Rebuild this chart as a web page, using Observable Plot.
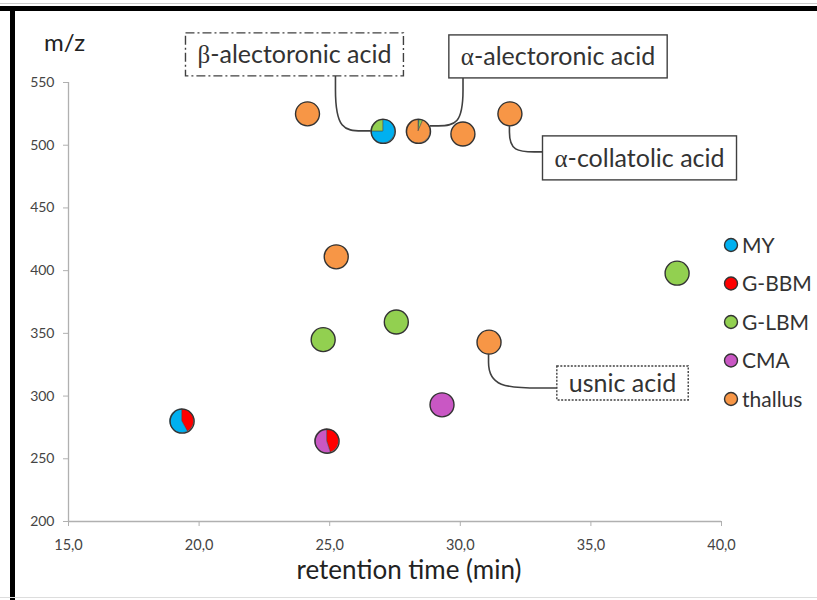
<!DOCTYPE html>
<html><head><meta charset="utf-8">
<script src="https://cdn.jsdelivr.net/npm/d3@7"></script>
<script src="https://cdn.jsdelivr.net/npm/@observablehq/plot@0.6"></script>
<style>
body{margin:0;background:#fff;}
#wrap{position:relative;width:817px;height:600px;overflow:hidden;background:#fff;font-family:Lato,"Open Sans",sans-serif;}
#wrap svg{position:absolute;left:0;top:0;overflow:visible;}
.bt{position:absolute;left:0;top:6px;width:817px;height:5px;background:#000;}
.bt2{position:absolute;left:0;top:3px;width:817px;height:1px;background:#ccc;}
.bl{position:absolute;left:10px;top:6px;width:5px;height:600px;background:#000;}
.bb{position:absolute;left:0;top:597px;width:817px;height:1px;background:#ddd;}
</style></head><body><div id="wrap"><div class="bt2"></div><div class="bt"></div><div class="bl"></div><div class="bb"></div></div>
<script>
// ---- data ----
const samples = ["MY", "G-BBM", "G-LBM", "CMA", "thallus"];
const sampleColors = ["#00B0F0", "#FF0000", "#92D050", "#C957C4", "#F79646"];
const rt = [19.35, 24.9, 29.3, 31.1, 24.75, 27.55, 25.25, 38.3, 24.15, 27.05, 28.4, 30.1, 31.9];
const mz = [280, 264, 293, 343, 345, 359, 411, 398, 525, 511, 511, 509, 525];
// share of each sample in each peak (pie slices)
const shareMY      = [0.58, 0,    0, 0, 0, 0, 0, 0, 0, 0.75, 0.015, 0, 0];
const shareGBBM    = [0.42, 0.45, 0, 0, 0, 0, 0, 0, 0, 0,    0,     0, 0];
const shareGLBM    = [0,    0,    0, 0, 1, 1, 0, 1, 0, 0.25, 0.05,  0, 0];
const shareCMA     = [0,    0.55, 1, 0, 0, 0, 0, 0, 0, 0,    0,     0, 0];
const shareThallus = [0,    0,    0, 1, 0, 0, 1, 0, 1, 0,    0.935, 1, 1];
const xTicks = [15, 20, 25, 30, 35, 40];
const yTicks = [200, 250, 300, 350, 400, 450, 500, 550];
const annGreek = ["β", "α", "α", ""];
const annText = ["-alectoronic acid", "-alectoronic acid", "-collatolic acid", "usnic acid"];
const annRt = [23.67, 33.76, 36.88, 36.23];
const annMz = [572, 570.4, 489.5, 310];
const annTarget = [9, 10, 12, 3];

// ---- build ----
const shares = {"MY": shareMY, "G-BBM": shareGBBM, "G-LBM": shareGLBM, "CMA": shareCMA, "thallus": shareThallus};
const colorOf = Object.fromEntries(samples.map((s, i) => [s, sampleColors[i]]));
const sliceOrder = ["G-BBM", "MY", "G-LBM", "CMA", "thallus"];
const peaks = rt.map((x, i) => {
  const slices = sliceOrder.map(s => ({s, v: shares[s][i], color: colorOf[s]})).filter(d => d.v > 0);
  return {rt: x, mz: mz[i], slices, mixed: slices.length > 1, color: slices[0].color};
});
const R = 12;
const FONT = "Lato, 'Open Sans', sans-serif";
const SERIF = "'Liberation Serif', 'DejaVu Serif', serif";

const annStyle = [
  {dash: "9,3,2,3", from: "box", boxDx: 41, side: -1, dy: 0, h: 43},
  {dash: null, from: "box", boxDx: -95, side: 1, dy: -5, h: 43},
  {dash: null, from: "point", dy: -6, h: 44},
  {dash: "2,1.5", from: "point", dy: 5, h: 34}
];

const ctx = document.createElement("canvas").getContext("2d");
function tw(t, font) { ctx.font = font; return ctx.measureText(t).width; }

function overlay(index, scales, values, dims) {
  const x = scales.x, y = scales.y;
  const g = d3.create("svg:g");
  // pies
  const pie = d3.pie().sort(null).value(d => d.v);
  const arc = d3.arc().innerRadius(0).outerRadius(R);
  peaks.filter(p => p.mixed).forEach(p => {
    g.append("g").attr("transform", `translate(${x(p.rt)},${y(p.mz)})`)
      .selectAll("path").data(pie(p.slices)).join("path")
      .attr("d", arc).attr("fill", d => d.data.color)
      .attr("stroke", "#444").attr("stroke-width", 0.5);
  });
  // annotations
  const fs = 25;
  annText.forEach((t, i) => {
    const st = annStyle[i];
    const wText = tw(annGreek[i], `${fs}px ${SERIF}`) + tw(t, `${fs}px ${FONT}`);
    const w = wText + 24, h = st.h;
    const cx = x(annRt[i]), cy = y(annMz[i]);
    const p = peaks[annTarget[i]];
    const px = x(p.rt), py = y(p.mz);
    let S, E;
    if (st.from === "box") {
      S = [cx + st.boxDx, cy + h / 2];
      E = [px + st.side * R, py + st.dy];
    } else {
      S = [px, py + R];
      E = [cx - w / 2, cy + st.dy];
    }
    const dx = E[0] - S[0], dy = E[1] - S[1];
    const path = `M${S[0]},${S[1]} L${S[0]},${S[1] + dy * 0.25} C${S[0]},${S[1] + dy * 0.95} ${S[0] + dx * 0.25},${E[1]} ${S[0] + dx * 0.75},${E[1]} L${E[0]},${E[1]}`;
    g.append("path").attr("d", path).attr("fill", "none").attr("stroke", "#404040").attr("stroke-width", 1.6);
    g.append("rect").attr("x", cx - w / 2).attr("y", cy - h / 2).attr("width", w).attr("height", h)
      .attr("fill", "#fff").attr("stroke", "#404040").attr("stroke-width", 1.4)
      .attr("stroke-dasharray", st.dash);
    const tx = g.append("text").attr("x", cx).attr("y", cy).attr("dy", "0.35em")
      .attr("text-anchor", "middle").attr("font-size", fs).attr("fill", "#333").attr("font-family", FONT);
    if (annGreek[i]) tx.append("tspan").attr("font-family", SERIF).text(annGreek[i]);
    tx.append("tspan").text(t);
  });
  // legend
  const lx = dims.width - dims.marginRight + 10;
  samples.forEach((s, i) => {
    const ly = dims.marginTop + 163 + i * 38.5;
    g.append("circle").attr("cx", lx).attr("cy", ly).attr("r", 6.5)
      .attr("fill", sampleColors[i]).attr("stroke", "#333").attr("stroke-width", 1.4);
    g.append("text").attr("x", lx + 11).attr("y", ly).attr("dy", "0.36em").attr("text-anchor", "start")
      .attr("font-size", 21).attr("fill", "#333").attr("font-family", FONT).text(s);
  });
  return g.node();
}

const chart = Plot.plot({
  width: 817, height: 600,
  marginLeft: 68, marginRight: 96, marginTop: 82, marginBottom: 79,
  x: {domain: [15, 40]},
  y: {domain: [200, 550]},
  style: {fontFamily: FONT, background: "transparent", overflow: "visible"},
  marks: [
    Plot.ruleY([200], {stroke: "#b0b0b0", strokeWidth: 1.3}),
    Plot.ruleX([15], {stroke: "#b0b0b0", strokeWidth: 1.3}),
    Plot.axisX({ticks: xTicks, tickSize: 5, tickPadding: 13, stroke: "#b0b0b0", fill: "#444", fontSize: 14.5,
      tickFormat: d => d.toFixed(1).replace(".", ","), label: null}),
    Plot.axisY({ticks: yTicks, tickSize: 5, tickPadding: 9, stroke: "#b0b0b0", fill: "#444", fontSize: 14, label: null}),
    Plot.text(["m/z"], {frameAnchor: "top-left", dx: -4, dy: -49, fontSize: 24, fill: "#222", textAnchor: "middle"}),
    Plot.text(["retention time (min)"], {frameAnchor: "bottom", dx: 14, dy: 57, fontSize: 26, fill: "#222"}),
    Plot.dot(peaks.filter(p => !p.mixed), {x: "rt", y: "mz", r: R, fill: "color", stroke: "#333", strokeWidth: 1.4}),
    overlay,
    Plot.dot(peaks.filter(p => p.mixed), {x: "rt", y: "mz", r: R, fill: "none", stroke: "#333", strokeWidth: 1.4})
  ]
});
document.getElementById("wrap").appendChild(chart);
</script>
</body></html>
